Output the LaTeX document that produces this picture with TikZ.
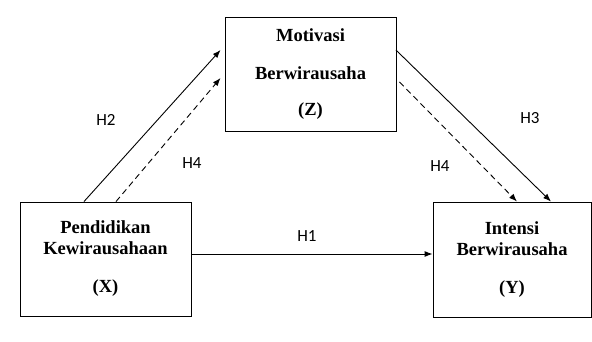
\documentclass[tikz,border=0pt]{standalone}
\usepackage{fontspec}
\setmainfont{Liberation Serif}
\newfontfamily\hfont{Carlito}
\usetikzlibrary{arrows.meta}

\begin{document}
\begin{tikzpicture}[x=1pt, y=1pt]
                    \tikzset{var/.style={draw, line width=0.9pt, minimum width=171pt, minimum height=114pt, align=center, font=\fontsize{18.5}{21}\selectfont\bfseries}}
                    \tikzset{hyp/.style={font=\hfont\fontsize{17}{19}\selectfont}}
                    \useasboundingbox (0, 0) rectangle (592, 341);
                    \node[var] (X) at (105.5, 82) {Pendidikan\\Kewirausahaan\\[17pt](X)};
                    \node[var] (Z) at (310.5, 267) {Motivasi\\[17pt]Berwirausaha\\[15pt](Z)};
                    \node[var, minimum width=158pt, minimum height=115pt] (Y) at (512, 81.5) {Intensi\\Berwirausaha\\[17pt](Y)};

                    \node[hyp] (h2) at (106, 221) {H2};
                    \node[hyp] (h4a) at (192, 178) {H4};
                    \node[hyp] (h3) at (530, 223) {H3};
                    \node[hyp] (h4b) at (440, 175) {H4};
                    \node[hyp] (h1) at (307, 105) {H1};

                    \path[-{Latex[length=8pt, width=6pt]}, line width=0.9pt]
                        ([xshift=-21.5pt]X.north) edge ([xshift=-4pt, yshift=24pt]Z.west)
                        ([xshift=-0.5pt, yshift=24pt]Z.east) edge ([xshift=39pt]Y.north)
                        ([yshift=5pt]X.east) edge ([yshift=5.5pt]Y.west);
                    \path[-{Latex[length=8pt, width=6pt]}, line width=0.9pt, dash pattern=on 6pt off 4pt]
                        ([xshift=10.5pt]X.north) edge ([xshift=-4pt, yshift=-4pt]Z.west)
                        ([xshift=3pt, yshift=-8pt]Z.east) edge ([xshift=5pt]Y.north);
                \end{tikzpicture}
\end{document}
